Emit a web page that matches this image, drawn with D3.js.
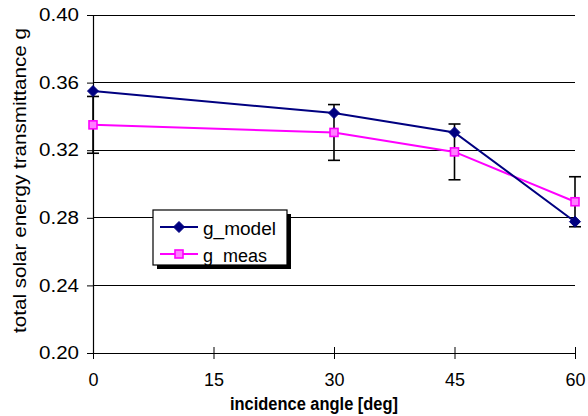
<!DOCTYPE html>
<html>
<head>
<meta charset="utf-8">
<script src="https://cdn.jsdelivr.net/npm/d3@7/dist/d3.min.js"></script>
<style>
html,body{margin:0;padding:0;background:#fff;}
svg{display:block;font-family:"Liberation Sans",Arial,sans-serif;}
</style>
</head>
<body>
<svg id="chart" width="588" height="416"></svg>
<script>
const angles = [0, 30, 45, 60];
const gModel = [0.355, 0.342, 0.3305, 0.2777];
const gMeas = [0.335, 0.3305, 0.319, 0.2895];
const gMeasErr = [0.0168, 0.0165, 0.0165, 0.0148];
const xTicks = [0, 15, 30, 45, 60];
const yTicks = [0.20, 0.24, 0.28, 0.32, 0.36, 0.40];
const seriesNames = ["g_model", "g_meas"];

const svg = d3.select("#chart");
const x = d3.scaleLinear().domain([0, 60]).range([93, 575]);
const y = d3.scaleLinear().domain([0.20, 0.40]).range([353, 15]);

// gridlines
svg.append("g").selectAll("line").data(yTicks.slice(1)).join("line")
  .attr("x1", x(0)).attr("x2", x(60))
  .attr("y1", d => y(d)).attr("y2", d => y(d))
  .attr("stroke", "#000").attr("stroke-width", 1).attr("shape-rendering", "crispEdges");

// y axis
const yAxis = svg.append("g").attr("transform", `translate(${x(0)},0)`)
  .call(d3.axisLeft(y).tickValues(yTicks).tickFormat(d3.format(".2f")).tickSize(6).tickPadding(8));
yAxis.select(".domain").attr("stroke", "#000").attr("stroke-width", 1.2);
yAxis.selectAll(".tick line").attr("stroke", "#000");
yAxis.selectAll("text").attr("font-size", 18).attr("fill", "#000")
  .attr("font-family", "'Liberation Sans',Arial,sans-serif")
  .attr("textLength", 40).attr("lengthAdjust", "spacingAndGlyphs");

// x axis
const xAxis = svg.append("g").attr("transform", `translate(0,${y(0.20)})`)
  .call(d3.axisBottom(x).tickValues(xTicks).tickFormat(d3.format("d")).tickSize(6).tickSizeOuter(0).tickPadding(14));
xAxis.select(".domain").attr("stroke", "#000").attr("stroke-width", 1.2);
xAxis.selectAll(".tick line").attr("stroke", "#000").attr("y1", -6).attr("y2", 6);
xAxis.selectAll("text").attr("font-size", 18).attr("fill", "#000")
  .attr("font-family", "'Liberation Sans',Arial,sans-serif");

// axis titles
svg.append("text").attr("x", 314).attr("y", 410).attr("text-anchor", "middle")
  .attr("font-size", 18).attr("font-weight", "bold")
  .attr("textLength", 168).attr("lengthAdjust", "spacingAndGlyphs")
  .text("incidence angle [deg]");
svg.append("text").attr("transform", `translate(26,${(28+333)/2}) rotate(-90)`)
  .attr("text-anchor", "middle").attr("font-size", 18)
  .attr("textLength", 305).attr("lengthAdjust", "spacingAndGlyphs")
  .text("total solar energy transmittance g");

// error bars on measured series
const eb = svg.append("g").attr("stroke", "#000").attr("stroke-width", 1.6);
angles.forEach((a, i) => {
  const lo = y(gMeas[i] - gMeasErr[i]), hi = y(gMeas[i] + gMeasErr[i]);
  eb.append("line").attr("x1", x(a)).attr("x2", x(a)).attr("y1", lo).attr("y2", hi);
  eb.append("line").attr("x1", x(a) - 6).attr("x2", x(a) + 6).attr("y1", lo).attr("y2", lo);
  eb.append("line").attr("x1", x(a) - 6).attr("x2", x(a) + 6).attr("y1", hi).attr("y2", hi);
});

const line = d3.line().x((d, i) => x(angles[i])).y(d => y(d));
const colModel = "#000080", colMeas = "#ff00ff";

svg.append("path").datum(gMeas).attr("d", line).attr("fill", "none")
  .attr("stroke", colMeas).attr("stroke-width", 2);
svg.append("path").datum(gModel).attr("d", line).attr("fill", "none")
  .attr("stroke", colModel).attr("stroke-width", 2);

function diamond(g, cx, cy) {
  g.append("path").attr("d", `M${cx},${cy-5.5}L${cx+5.5},${cy}L${cx},${cy+5.5}L${cx-5.5},${cy}Z`)
    .attr("fill", colModel).attr("stroke", colModel).attr("stroke-width", 1);
}
function square(g, cx, cy) {
  g.append("rect").attr("x", cx - 4).attr("y", cy - 4).attr("width", 8).attr("height", 8)
    .attr("fill", "#ff80ff").attr("stroke", colMeas).attr("stroke-width", 1.6);
}
const mk = svg.append("g");
angles.forEach((a, i) => square(mk, x(a), y(gMeas[i])));
angles.forEach((a, i) => diamond(mk, x(a), y(gModel[i])));

// legend
const lg = svg.append("g");
lg.append("rect").attr("x", 157).attr("y", 214).attr("width", 134).attr("height", 55).attr("fill", "#000");
lg.append("rect").attr("x", 153).attr("y", 210).attr("width", 134).attr("height", 55)
  .attr("fill", "#fff").attr("stroke", "#000").attr("stroke-width", 1.2);
const items = [{name: seriesNames[0], col: colModel, m: diamond, yy: 227, w: 73},
               {name: seriesNames[1], col: colMeas, m: square, yy: 254, w: 64}];
items.forEach(it => {
  lg.append("line").attr("x1", 160).attr("x2", 198).attr("y1", it.yy).attr("y2", it.yy)
    .attr("stroke", it.col).attr("stroke-width", 2);
  it.m(lg, 179, it.yy);
  lg.append("text").attr("x", 203).attr("y", it.yy + 8).attr("font-size", 18)
    .attr("textLength", it.w).attr("lengthAdjust", "spacingAndGlyphs").text(it.name);
});
</script>
</body>
</html>
